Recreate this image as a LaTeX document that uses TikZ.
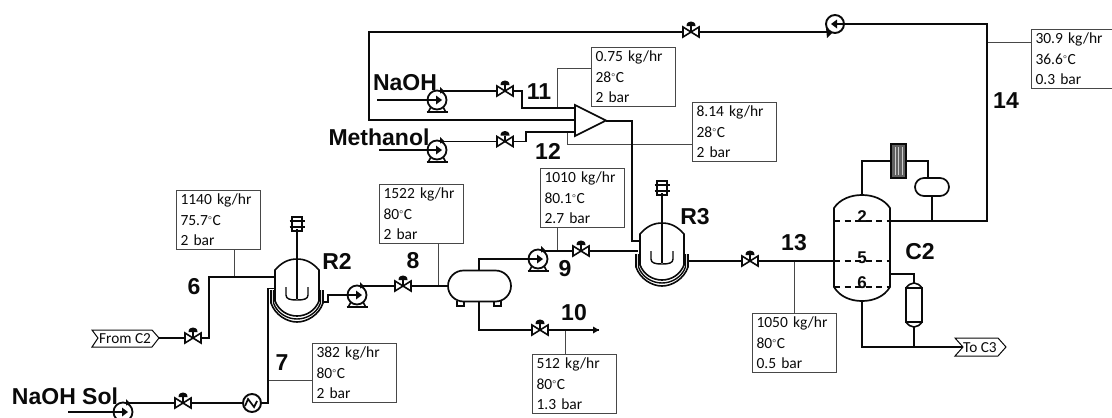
\documentclass[tikz,border=0pt]{standalone}
\usepackage{fontspec}
\setmainfont{Carlito}
\newfontfamily\lab{Liberation Sans}
\usetikzlibrary{shapes.misc,calc}
\definecolor{ink}{HTML}{0A0A0A}
\definecolor{lead}{HTML}{484848}
\newcommand{\dg}{\kern0.5pt\raisebox{0.1em}{\fontsize{10}{10}\selectfont\color{lead}°}\kern0.8pt}
\tikzset{
  pipe/.style={draw=ink,line width=1.9pt,line join=miter},
  leader/.style={draw=lead,line width=1pt},
  infobox/.style={draw=lead,line width=1pt,anchor=north west,inner xsep=4pt,inner ysep=0pt,
    text width=76pt,minimum height=59pt,align=left,text=ink,
    font=\fontsize{15.5}{20.5}\selectfont},
  bigl/.style={font=\lab\bfseries\fontsize{23}{23}\selectfont,text=ink,inner sep=0pt},
  tray/.style={font=\lab\bfseries\fontsize{17}{17}\selectfont,text=ink,inner sep=0pt},
  tagtext/.style={font=\fontsize{15.3}{16}\selectfont,text=ink,inner sep=0pt},
  pumpc/.style={circle,draw=ink,line width=1.8pt,minimum size=19pt,inner sep=0pt,fill=white},
  drum/.style={rounded rectangle,draw=ink,line width=1.7pt,inner sep=0pt,fill=white},
  anch/.style={inner sep=0pt,minimum size=0pt},
  valve/.pic={
    \draw[ink,line width=1.6pt,fill=white,line join=miter] (-8,-5) -- (8,5) -- (8,-5) -- (-8,5) -- cycle;
    \draw[ink,line width=1.6pt] (0,0) -- (0,-6);
    \fill[ink] (-4.5,-6) .. controls (-4.5,-9.5) and (-2,-10.5) .. (0,-10.5) .. controls (2,-10.5) and (4.5,-9.5) .. (4.5,-6) -- cycle;
  },
  pumpb/.pic={
    \draw[ink,line width=1.6pt] (-9,0) -- (0,0);
    \fill[ink] (-1,-4.5) -- (5,0) -- (-1,4.5) -- cycle;
    \draw[ink,line width=1.6pt] (-6,7) -- (-8.5,11.5) (6,7) -- (8.5,11.5);
    \draw[ink,line width=2.4pt] (-10.5,12) -- (10.5,12);
    \fill[ink] (3,-13) -- (7.5,-8.5) -- (3,-6.5) -- cycle;
  },
  reactor/.pic={
    \draw[ink,line width=1.6pt] (-26,31) -- (-26,44) .. controls (-22,56) and (-10,63) .. (0,63) .. controls (10,63) and (22,56) .. (26,44) -- (26,31);
    \draw[ink,line width=1.4pt] (-23.5,31) -- (-23.5,44) .. controls (-20,54) and (-10,60) .. (0,60) .. controls (10,60) and (20,54) .. (23.5,44) -- (23.5,31);
    \draw[ink,line width=1.6pt,fill=white] (-22,11) .. controls (-15,3) and (-8,0) .. (0,0) .. controls (8,0) and (15,3) .. (22,11) -- (22,42) .. controls (18,52) and (9,57) .. (0,57) .. controls (-9,57) and (-18,52) .. (-22,42) -- cycle;
    \draw[ink,line width=1.4pt] (0,-30) -- (0,40);
    \draw[ink,line width=1.4pt] (-11,28) -- (-11,36) .. controls (-11,40) and (-7,41) .. (0,41) .. controls (7,41) and (11,40) .. (11,36) -- (11,28);
    \draw[ink,line width=1.3pt] (-5,-42) rectangle (5,-28);
    \draw[ink,line width=1.9pt] (-7.5,-38) -- (7.5,-38) (-7.5,-32) -- (7.5,-32) (-3,-42) -- (3,-42);
  },
}
\begin{document}
\begin{tikzpicture}[x=1pt,y=-1pt]
\useasboundingbox (0,0) rectangle (1112,418);

% ---- info boxes
\node[infobox] (b6) at (176,190) {1140 kg/hr\\75.7\dg C\\2 bar};
\node[infobox] (b7) at (312,343) {382 kg/hr\\80\dg C\\2 bar};
\node[infobox] (b8) at (379,184) {1522 kg/hr\\80\dg C\\2 bar};
\node[infobox] (b9) at (540,168) {1010 kg/hr\\80.1\dg C\\2.7 bar};
\node[infobox] (b10) at (532,354) {512 kg/hr\\80\dg C\\1.3 bar};
\node[infobox] (b11) at (591,47) {0.75 kg/hr\\28\dg C\\2 bar};
\node[infobox] (b12) at (692,102) {8.14 kg/hr\\28\dg C\\2 bar};
\node[infobox] (b13) at (752,313) {1050 kg/hr\\80\dg C\\0.5 bar};
\node[infobox] (b14) at (1031,29) {30.9 kg/hr\\36.6\dg C\\0.3 bar};

% ---- leaders
\coordinate (j6) at (234,277);
\coordinate (j7) at (269,380);
\coordinate (j8) at (438,286);
\coordinate (j9) at (557,251);
\coordinate (j10) at (565,330);
\coordinate (j11) at (557,108);
\coordinate (j12) at (567,133);
\coordinate (j13) at (794,261);
\coordinate (j14) at (987,42);
\coordinate (k11) at (557,68);
\coordinate (k12) at (567,144);
\draw[leader] (j6) -- (j6 |- b6.south);
\draw[leader] (j7) -- (j7 -| b7.west);
\draw[leader] (j8) -- (j8 |- b8.south);
\draw[leader] (j9) -- (j9 |- b9.south);
\draw[leader] (j10) -- (j10 |- b10.north);
\draw[leader] (j11) -- (k11) -- (k11 -| b11.west);
\draw[leader] (j12) -- (k12) -- (k12 -| b12.west);
\draw[leader] (j13) -- (j13 |- b13.north);
\draw[leader] (j14) -- (j14 -| b14.west);

% ---- equipment anchors
\node[anch] (v6) at (193,338) {};
\node[anch] (v7) at (183,403) {};
\node[anch] (v8) at (403,286) {};
\node[anch] (v9) at (581,251) {};
\node[anch] (v10) at (540,330) {};
\node[anch] (v11) at (505,91) {};
\node[anch] (v12) at (505,141.5) {};
\node[anch] (v13) at (750,261) {};
\node[anch] (v14) at (691,32) {};
\node[anch] (r2) at (297,259) {};
\node[anch] (r3) at (662,223) {};
\coordinate (mixout) at (606,121);
\node[minimum width=56pt,minimum height=106pt,inner sep=0pt] (c2) at (862,248) {};

% ---- pipes
\coordinate (fromtip) at (159,338);
\coordinate (s6a) at (209,338);
\coordinate (s6b) at (209,277);
\coordinate (s6c) at (276,277);
\draw[pipe] (fromtip) -- (v6) -- (s6a) -- (s6b) -- (s6c);

\coordinate (s7in) at (68,412);
\node[pumpc] (p7) at (123,412) {};
\coordinate (s7a) at (128,403);
\node[circle,draw=ink,line width=1.9pt,minimum size=18pt,inner sep=0pt,fill=white] (hx) at (252,403) {};
\coordinate (s7b) at (268,403);
\coordinate (s7c) at (268,288.5);
\coordinate (s7d) at (274,288.5);
\draw[pipe] (s7in) -- (p7.west);
\draw[pipe] (s7a) -- (v7) -- (hx.west);
\draw[pipe] (hx.east) -- (s7b) -- (s7c) -- (s7d);

\coordinate (s8a) at (323,302);
\coordinate (s8b) at (328,302);
\coordinate (s8c) at (328,295);
\node[pumpc] (p8) at (357,295) {};
\coordinate (s8d) at (363,286);
\node[drum,minimum width=63pt,minimum height=31pt] (sep) at (479.5,286) {};
\draw[pipe] (s8a) -- (s8b) -- (s8c) -- (p8.west);
\draw[pipe] (s8d) -- (v8) -- (sep.west);
\coordinate (s9a) at (479,259);
\node[pumpc] (p9) at (538,259) {};
\coordinate (s9b) at (545,251);
\coordinate (s9c) at (638,251);
\draw[pipe] (sep.north -| s9a) -- (s9a) -- (p9.west);
\draw[pipe] (s9b) -- (v9) -- (s9c);

\coordinate (s10a) at (479,330);
\coordinate (s10end) at (599,330);
\draw[pipe] (sep.south -| s10a) -- (s10a) -- (v10) -- (s10end);
\fill[ink] (s10end) ++(-6,-3.5) -- (s10end) -- ++(-6,3.5) -- cycle;

% recycle
\node[circle,draw=ink,line width=1.9pt,minimum size=18pt,inner sep=0pt,fill=white] (p14) at (835,24) {};
\coordinate (s14a) at (369,32);
\coordinate (s14b) at (369,120);
\coordinate (s14c) at (575,120);
\coordinate (s14d) at (828,32);
\coordinate (s14e) at (987,24);
\coordinate (s14f) at (987,221);
\draw[pipe] (s14c) -- (s14b) -- (s14a) -- (v14) -- (s14d);
\draw[pipe] (p14.east) -- (s14e) -- (s14f) -- (c2.east |- s14f);

% feeds
\node[pumpc] (p11) at (437,100) {};
\coordinate (s11in) at (377,100);
\coordinate (s11a) at (442,91);
\coordinate (s11b) at (522,91);
\coordinate (s11c) at (522,108);
\coordinate (s11d) at (576,108);
\draw[pipe] (s11in) -- (p11.west);
\draw[pipe] (s11a) -- (v11) -- (s11b) -- (s11c) -- (s11d);
\node[pumpc] (p12) at (437,150) {};
\coordinate (s12in) at (379,150);
\coordinate (s12a) at (442,141.5);
\coordinate (s12b) at (526,141.5);
\coordinate (s12c) at (526,132);
\coordinate (s12d) at (576,132);
\draw[pipe] (s12in) -- (p12.west);
\draw[pipe] (s12a) -- (v12) -- (s12b) -- (s12c) -- (s12d);

\coordinate (s13a) at (632,121);
\coordinate (s13b) at (632,241);
\coordinate (s13c) at (640,241);
\draw[pipe] (mixout) -- (s13a) -- (s13b) -- (s13c);
\coordinate (s13d) at (687,261);
\draw[pipe] (s13d) -- (v13) -- (c2.west |- v13);

% column auxiliaries
\node[minimum width=15pt,minimum height=34pt,inner sep=0pt] (cond) at (898.5,161) {};
\node[drum,minimum width=34pt,minimum height=18pt] (acc) at (932,187) {};
\coordinate (s2a) at (862,161);
\coordinate (s2b) at (928,161);
\coordinate (s2c) at (932,221);
\draw[pipe] (c2.north) -- (s2a) -- (cond.west);
\draw[pipe] (cond.east) -- (s2b) -- (s2b |- acc.north);
\draw[pipe] (acc.south) -- (s2c);
\node[minimum width=16pt,minimum height=44pt,inner sep=0pt] (reb) at (914,305) {};
\coordinate (s6r) at (914,274);
\coordinate (s3a) at (862,347);
\coordinate (s3b) at (963,347);
\draw[pipe] (c2.east |- s6r) -- (s6r) -- (reb.north);
\draw[pipe] (reb.south) -- (reb.south |- s3a);
\draw[pipe] (c2.south) -- (s3a) -- (s3b);

% ---- equipment drawings
\pic at (v6) {valve}; \pic at (v7) {valve}; \pic at (v8) {valve};
\pic at (v9) {valve}; \pic at (v10) {valve}; \pic at (v11) {valve};
\pic at (v12) {valve}; \pic at (v13) {valve}; \pic at (v14) {valve};
\pic at (p7) {pumpb}; \pic at (p8) {pumpb}; \pic at (p9) {pumpb};
\pic at (p11) {pumpb}; \pic at (p12) {pumpb};
\draw[ink,line width=1.6pt] (p14.east) -- (p14.center);
\fill[ink] (p14.center) ++(2,-4.5) -- ++(0,9) -- ++(-6,-4.5) -- cycle;
\fill[ink] (826,28) -- (832,33) -- (827,38) -- cycle;
\draw[ink,line width=1.7pt] (hx.west) ++(3,3) -- ++(3,-7) -- ++(6,8) -- ++(3,-6);
\pic at (r2) {reactor};
\pic at (r3) {reactor};
\draw[ink,line width=1.7pt,fill=white,line join=miter] (575,105) -- (606,120.5) -- (575,136) -- cycle;
\draw[ink,line width=1.6pt] (457,301) -- (457,306) -- (464,306) -- (464,301);
\draw[ink,line width=1.6pt] (494,301) -- (494,306) -- (501,306) -- (501,301);

% column
\draw[ink,line width=1.7pt,fill=white] (834,208) .. controls (840,199) and (851,195) .. (862,195) .. controls (873,195) and (884,199) .. (890,208) -- (890,287) .. controls (884,297) and (873,301) .. (862,301) .. controls (851,301) and (840,297) .. (834,287) -- cycle;
\draw[ink,line width=1.6pt,dash pattern=on 6pt off 4.5pt] (834,221) -- (890,221) (834,261) -- (890,261) (834,287) -- (890,287);
\draw[pipe] (832,261) -- (840,261);
\node[tray] (t2) at (862,217) {2};
\node[tray] (t5) at (862,258) {5};
\node[tray] (t6) at (862,283) {6};

% condenser
\fill[ink!65] (891,144) rectangle (906,178);
\draw[ink,line width=1.4pt] (891,144) rectangle (906,178);
\draw[white!80!black,line width=0.8pt] (895,147) -- (895,175) (898.5,147) -- (898.5,175) (902,147) -- (902,175);
% reboiler
\draw[ink,line width=1.6pt,fill=white] (906,288) .. controls (908,285) and (911,283) .. (914,283) .. controls (917,283) and (920,285) .. (922,288) -- (922,322) .. controls (920,325) and (917,327) .. (914,327) .. controls (911,327) and (908,325) .. (906,322) -- cycle;
\draw[ink,line width=1.6pt] (905,288) -- (923,288) (905,322) -- (923,322);

% tags
\draw[ink,line width=1pt,fill=white] (92,330) -- (152,330) -- (159,338) -- (152,347) -- (92,347) -- (98,338) -- cycle;
\node[tagtext,anchor=west] (tagfrom) at (99,338.5) {From C2};
\draw[ink,line width=1pt,fill=white] (955,338) -- (998,338) -- (1006,347) -- (998,356) -- (955,356) -- (963,347) -- cycle;
\node[tagtext,anchor=west] (tagto) at (963,347.5) {To C3};

% ---- labels
\node[bigl] (l6) at (194,287) {6};
\node[bigl] (l7) at (282,363) {7};
\node[bigl] (l8) at (413,261) {8};
\node[bigl] (l9) at (565,269) {9};
\node[bigl] (l10) at (574,313) {10};
\node[bigl] (l11) at (539,92) {11};
\node[bigl] (l12) at (548,151) {12};
\node[bigl] (l13) at (794,243) {13};
\node[bigl] (l14) at (1006,101) {14};
\node[bigl] (lr2) at (337,261) {R2};
\node[bigl] (lr3) at (695,217) {R3};
\node[bigl] (lc2) at (920,252) {C2};
\node[bigl] (lnaoh) at (405,83) {NaOH};
\node[bigl] (lmeth) at (379,137) {Methanol};
\node[bigl] (lsol) at (65,396) {NaOH Sol};
\end{tikzpicture}
\end{document}
